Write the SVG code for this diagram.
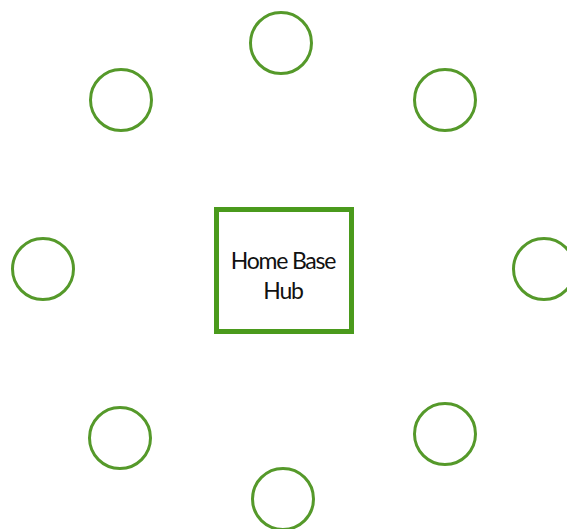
<svg xmlns="http://www.w3.org/2000/svg" width="567" height="529" viewBox="0 0 567 529">
<style>
.sat{fill:none;stroke:#55992a;stroke-width:3}
.hub{fill:#fff;stroke:#4a9a1c;stroke-width:5}
.lbl{font-family:Lato,"Open Sans",sans-serif;font-size:23px;fill:#111;text-anchor:middle;letter-spacing:-1.2px}
</style>
<rect width="567" height="529" fill="#fff"/>
<g id="connectors"></g>
<g id="hub"><rect class="hub" x="216.5" y="209.5" width="135" height="122"/>
<text class="lbl" x="283" y="269">Home Base</text>
<text class="lbl" x="283" y="299">Hub</text></g>
<g id="n-top"><circle class="sat" cx="281" cy="43" r="30.5"/></g>
<g id="n-topright"><circle class="sat" cx="445" cy="100" r="30.5"/></g>
<g id="n-right"><circle class="sat" cx="544" cy="269" r="30.5"/></g>
<g id="n-bottomright"><circle class="sat" cx="445" cy="434" r="30.5"/></g>
<g id="n-bottom"><circle class="sat" cx="283" cy="499" r="30.5"/></g>
<g id="n-bottomleft"><circle class="sat" cx="120" cy="438" r="30.5"/></g>
<g id="n-left"><circle class="sat" cx="43" cy="269" r="30.5"/></g>
<g id="n-topleft"><circle class="sat" cx="121" cy="100" r="30.5"/></g>
</svg>
